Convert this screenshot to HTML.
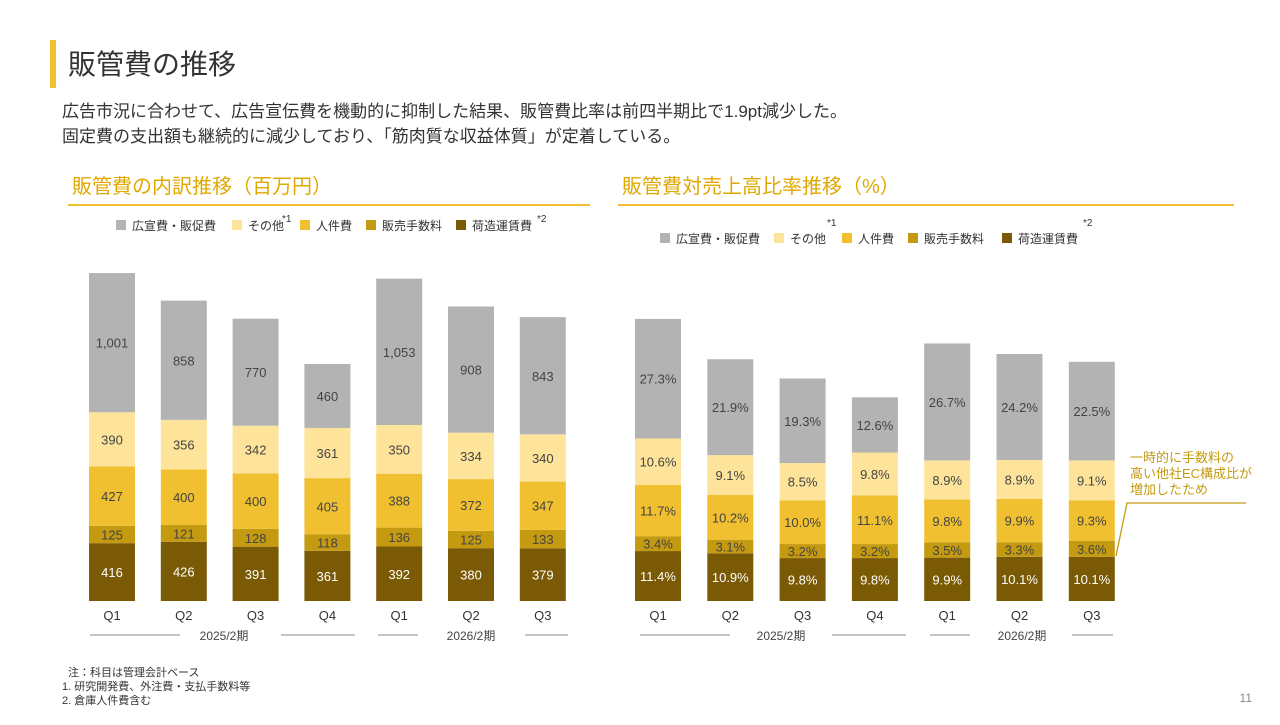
<!DOCTYPE html>
<html><head><meta charset="utf-8">
<style>
body{margin:0;width:1280px;height:720px;background:#fff;overflow:hidden;font-family:"Liberation Sans","Noto Sans CJK JP",sans-serif;}
svg text{font-family:"Liberation Sans","Noto Sans CJK JP",sans-serif;}
</style></head>
<body>
<svg id="s" width="1280" height="720" xmlns="http://www.w3.org/2000/svg">
<rect x="50" y="40" width="6" height="48" fill="#f0c030"/>
<text x="68" y="74" font-size="28" fill="#333">販管費の推移</text>
<text x="62" y="117" font-size="17" fill="#333">広告市況に合わせて、広告宣伝費を機動的に抑制した結果、販管費比率は前四半期比で1.9pt減少した。</text>
<text x="62" y="142" font-size="17" fill="#333">固定費の支出額も継続的に減少しており、「筋肉質な収益体質」が定着している。</text>
<text x="72" y="193" font-size="20" fill="#e0a800">販管費の内訳推移（百万円）</text>
<text x="622" y="193" font-size="20" fill="#e0a800">販管費対売上高比率推移（%）</text>
<rect x="68" y="204" width="522" height="2" fill="#f0c030"/>
<rect x="618" y="204" width="616" height="2" fill="#f0c030"/>
<text x="68" y="676" font-size="11" fill="#333">注：科目は管理会計ベース</text>
<text x="62" y="690" font-size="11" fill="#333">1. 研究開発費、外注費・支払手数料等</text>
<text x="62" y="704" font-size="11" fill="#333">2. 倉庫人件費含む</text>
<text x="1252" y="702" font-size="12" fill="#888" text-anchor="end">11</text>
<text x="1130" y="462" font-size="13" fill="#c49a10">一時的に手数料の</text>
<text x="1130" y="478" font-size="13" fill="#c49a10">高い他社EC構成比が</text>
<text x="1130" y="494" font-size="13" fill="#c49a10">増加したため</text>
<polyline points="1116,556 1127,503 1246,503" fill="none" stroke="#c49a10" stroke-width="1.3"/>
</svg>
<script>
const categories=["Q1","Q2","Q3","Q4","Q1","Q2","Q3"];
const seriesNames=["荷造運賃費","販売手数料","人件費","その他","広宣費・販促費"];
const leftFreight=[416,426,391,361,392,380,379];
const leftCommission=[125,121,128,118,136,125,133];
const leftPersonnel=[427,400,400,405,388,372,347];
const leftOther=[390,356,342,361,350,334,340];
const leftAds=[1001,858,770,460,1053,908,843];
const rightFreight=[11.4,10.9,9.8,9.8,9.9,10.1,10.1];
const rightCommission=[3.4,3.1,3.2,3.2,3.5,3.3,3.6];
const rightPersonnel=[11.7,10.2,10.0,11.1,9.8,9.9,9.3];
const rightOther=[10.6,9.1,8.5,9.8,8.9,8.9,9.1];
const rightAds=[27.3,21.9,19.3,12.6,26.7,24.2,22.5];
const colors=["#7a5a05","#c49a10","#f0c030","#fde49a","#b3b3b3"];
const NS="http://www.w3.org/2000/svg";
const svg=document.getElementById("s");
function mk(tag,attrs,txt){const e=document.createElementNS(NS,tag);for(const k in attrs)e.setAttribute(k,attrs[k]);if(txt!==undefined)e.textContent=txt;svg.appendChild(e);return e;}
const base=601;
function drawChart(prefix,x0,step,scale,series,fmt){
  const xOf=i=>x0+i*step;
  const yOf=v=>v*scale;
  categories.forEach((c,i)=>{
    let cum=0;
    series.forEach((arr,s)=>{
      const v=arr[i];const h=yOf(v);const y=base-yOf(cum)-h;
      const r=mk("rect",{x:xOf(i)-23,y:y,width:46,height:h,fill:colors[s]});
      
      
      const t=mk("text",{x:xOf(i),y:y+h/2+5,"font-size":13,"text-anchor":"middle",fill:s===0?"#fff":"#444"},fmt(v));
      
      
      cum+=v;
    });
    const l=mk("text",{x:xOf(i),y:620,"font-size":13,"text-anchor":"middle",fill:"#333"},c);
    
    
  });
}
drawChart("left",112,71.8,0.139,[leftFreight,leftCommission,leftPersonnel,leftOther,leftAds],v=>v.toLocaleString("en-US"));
drawChart("right",658,72.3,4.38,[rightFreight,rightCommission,rightPersonnel,rightOther,rightAds],v=>v.toFixed(1)+"%");
// period group labels
const groups=[["left","2025/2期",224,90,180,281,355],["left","2026/2期",471,378,418,525,568],["right","2025/2期",781,640,730,832,906],["right","2026/2期",1022,930,970,1072,1113]];
groups.forEach((g,k)=>{
  const t=mk("text",{x:g[2],y:640,"font-size":12,"text-anchor":"middle",fill:"#444"},g[1]);
  
  
  [[g[3],g[4]],[g[5],g[6]]].forEach((p,j)=>{
    const ln=mk("line",{x1:p[0],x2:p[1],y1:635,y2:635,stroke:"#888","stroke-width":1});
    
    
  });
});
// legends
const legendOrder=[4,3,2,1,0];
const legendLabels=["広宣費・販促費","その他","人件費","販売手数料","荷造運賃費"];
function legend(prefix,xs,y,supX){
  legendOrder.forEach((s,j)=>{
    const r=mk("rect",{x:xs[j],y:y-10,width:10,height:10,fill:colors[s]});
    
    
    const t=mk("text",{x:xs[j]+16,y:y,"font-size":12,fill:"#333"},legendLabels[j]);
    
    
  });
  supX.forEach((x,k)=>{
    const t=mk("text",{x:x[0],y:x[1],"font-size":10,fill:"#333"},"*"+(k+1));
    
    
  });
}
legend("left",[116,232,300,366,456],230,[[282,222],[537,222]]);
legend("right",[660,774,842,908,1002],243,[[827,226],[1083,226]]);
</script>
</body></html>
